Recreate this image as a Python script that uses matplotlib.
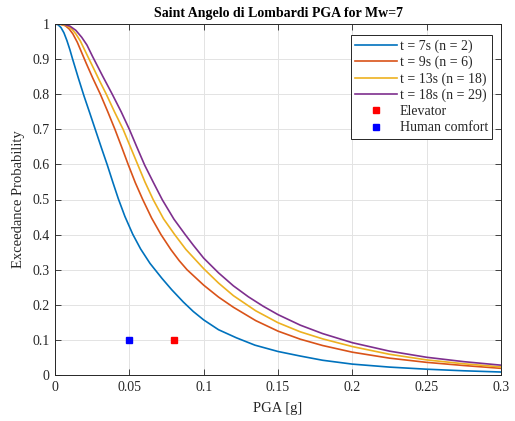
import matplotlib
matplotlib.use("Agg")
import matplotlib.pyplot as plt

plt.rcParams['font.family'] = ['Liberation Serif', 'DejaVu Serif']

# ---- data ----
x_t7 = [0, 0.002, 0.004, 0.006, 0.008, 0.010, 0.0117, 0.0157, 0.0195, 0.0235, 0.028, 0.0314,
        0.0352, 0.039, 0.0426, 0.047, 0.0523, 0.0576, 0.0639, 0.072, 0.0785, 0.0863, 0.093,
        0.1, 0.11, 0.122, 0.1345, 0.15, 0.165, 0.18, 0.2, 0.225, 0.25, 0.275, 0.3]
y_t7 = [1.0, 0.998, 0.99, 0.975, 0.953, 0.927, 0.902, 0.846, 0.795, 0.745, 0.688, 0.645,
        0.598, 0.548, 0.502, 0.452, 0.401, 0.359, 0.318, 0.275, 0.243, 0.208, 0.181,
        0.157, 0.129, 0.106, 0.085, 0.067, 0.054, 0.042, 0.031, 0.0225, 0.0165, 0.012, 0.0085]

x_t9 = [0, 0.004, 0.007, 0.0095, 0.012, 0.015, 0.018, 0.021, 0.0255, 0.0305, 0.0355, 0.0403,
        0.0448, 0.0492, 0.054, 0.059, 0.065, 0.0713, 0.078, 0.0835, 0.0888, 0.1, 0.11, 0.12,
        0.135, 0.15, 0.165, 0.18, 0.2, 0.225, 0.25, 0.275, 0.3]
y_t9 = [1.0, 0.999, 0.995, 0.986, 0.972, 0.948, 0.918, 0.888, 0.845, 0.80, 0.75, 0.70,
        0.65, 0.60, 0.548, 0.50, 0.447, 0.40, 0.357, 0.326, 0.30, 0.256, 0.222, 0.193,
        0.155, 0.125, 0.102, 0.084, 0.065, 0.048, 0.036, 0.027, 0.019]

x_t13 = [0, 0.004, 0.008, 0.011, 0.014, 0.017, 0.0195, 0.022, 0.025, 0.03, 0.0345, 0.040,
         0.0458, 0.0505, 0.0556, 0.0605, 0.066, 0.073, 0.0805, 0.088, 0.1, 0.11, 0.12, 0.135,
         0.15, 0.165, 0.18, 0.2, 0.225, 0.25, 0.275, 0.3]
y_t13 = [1.0, 0.999, 0.995, 0.987, 0.972, 0.952, 0.93, 0.908, 0.882, 0.838, 0.80, 0.75,
         0.70, 0.652, 0.60, 0.55, 0.50, 0.445, 0.40, 0.358, 0.303, 0.262, 0.226, 0.183,
         0.149, 0.123, 0.103, 0.081, 0.059, 0.043, 0.032, 0.023]

x_t18 = [0, 0.006, 0.010, 0.014, 0.018, 0.0215, 0.0252, 0.032, 0.0385, 0.0445, 0.050, 0.055,
         0.0603, 0.066, 0.0722, 0.08, 0.0876, 0.093, 0.1, 0.11, 0.12, 0.13, 0.14, 0.15, 0.165,
         0.18, 0.2, 0.225, 0.25, 0.275, 0.3]
y_t18 = [1.0, 0.999, 0.994, 0.982, 0.962, 0.94, 0.908, 0.852, 0.80, 0.75, 0.70, 0.65,
         0.598, 0.55, 0.499, 0.444, 0.40, 0.37, 0.333, 0.291, 0.254, 0.223, 0.196, 0.172,
         0.142, 0.118, 0.092, 0.068, 0.0505, 0.038, 0.028]

labels = ['t = 7s (n = 2)', 't = 9s (n = 6)', 't = 13s (n = 18)', 't = 18s (n = 29)']
elevator_pga, elevator_p = [0.08], [0.1]
comfort_pga, comfort_p = [0.05], [0.1]

colors = ['#0072BD', '#D95319', '#EDB120', '#7E2F8E']

fig = plt.figure(figsize=(5.15, 4.21), dpi=100)
ax = fig.add_axes([55/515, 1-375/421, (501-55)/515, (375-24)/421])

for xs, ys, c, lab in zip([x_t7, x_t9, x_t13, x_t18], [y_t7, y_t9, y_t13, y_t18], colors, labels):
    ax.plot(xs, ys, color=c, lw=1.2, label=lab, solid_joinstyle='round')

ax.plot(elevator_pga, elevator_p, 's', color='#FF0000', ms=5, mec='#FF0000', label='Elevator')
ax.plot(comfort_pga, comfort_p, 's', color='#0000FF', ms=5, mec='#0000FF', label='Human comfort')

ax.set_xlim(0, 0.3)
ax.set_ylim(0, 1)
ax.set_xticks([0, 0.05, 0.1, 0.15, 0.2, 0.25, 0.3])
ax.set_xticklabels(['0', '0.05', '0.1', '0.15', '0.2', '0.25', '0.3'])
ax.set_yticks([i/10 for i in range(11)])
ax.set_yticklabels(['0'] + ['0.%d' % i for i in range(1, 10)] + ['1'])

dark = '#262626'
ax.grid(True, color='#E3E3E3', lw=0.7)
ax.set_axisbelow(True)
ax.tick_params(direction='in', top=True, right=True, length=4, width=0.6,
               colors=dark, labelsize=10, pad=4)
for s in ax.spines.values():
    s.set_color(dark)
    s.set_linewidth(0.7)

ax.set_xlabel('PGA [g]', fontsize=10.5, color=dark, labelpad=6)
ax.set_ylabel('Exceedance Probability', fontsize=10.5, color=dark, labelpad=5)
ax.set_title('Saint Angelo di Lombardi PGA for Mw=7', fontsize=10, fontweight='bold',
             color='black', pad=5)

leg = ax.legend(loc='upper right', bbox_to_anchor=(492/515, 1-35/421),
                bbox_transform=fig.transFigure, borderaxespad=0, fontsize=10,
                handlelength=3.0, handletextpad=0.2, labelspacing=0.22,
                borderpad=0.3, fancybox=False, framealpha=1, edgecolor=dark)
leg.get_frame().set_linewidth(0.7)
for t in leg.get_texts():
    t.set_color(dark)

fig.savefig('out.png', dpi=100)
